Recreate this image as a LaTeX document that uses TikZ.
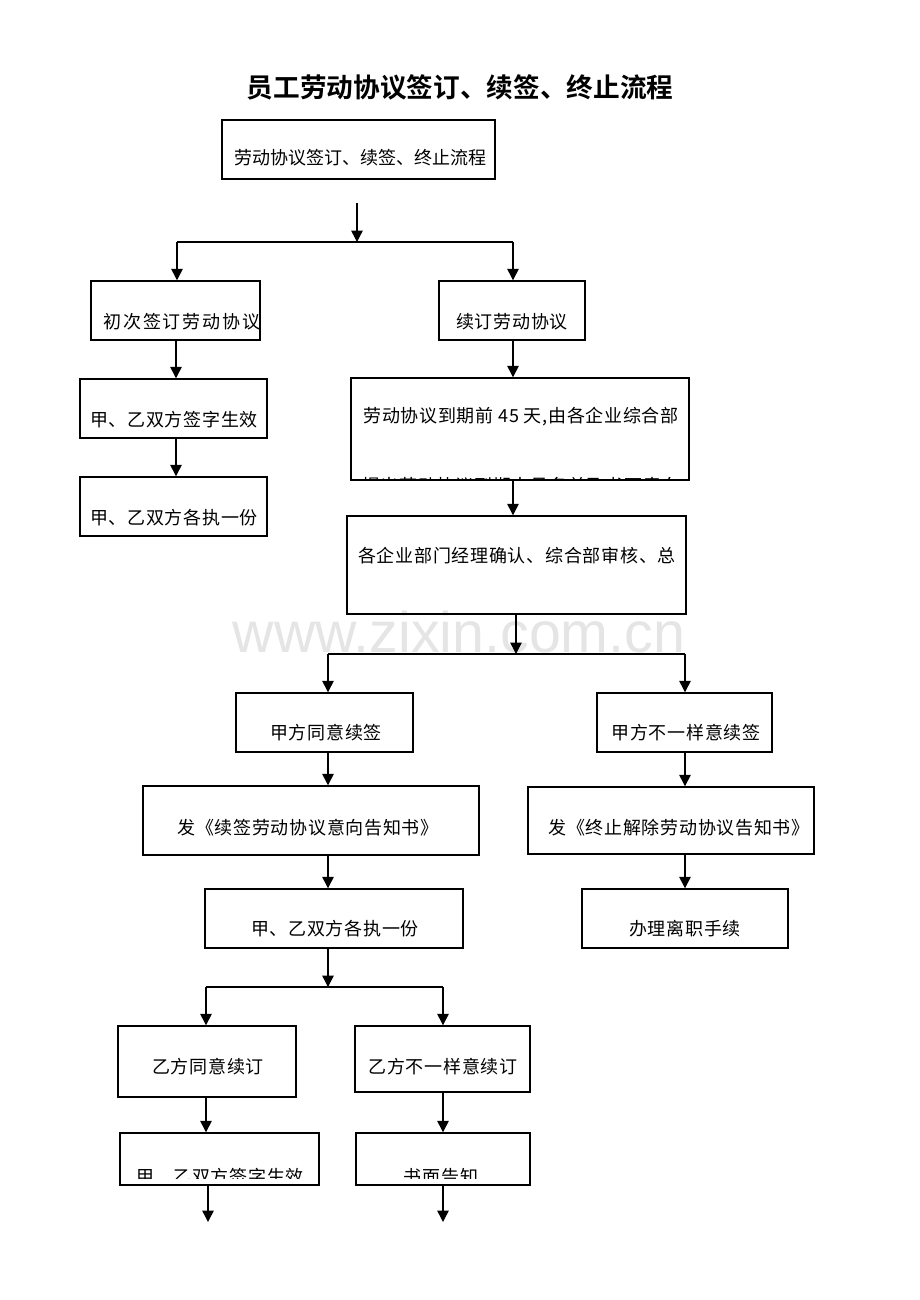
\documentclass[tikz,border=0pt]{standalone}
\usepackage{fontspec}
\setmainfont{Noto Sans CJK SC}[BoldFont={Noto Sans CJK SC Bold}]
\newfontfamily\wmfont{Liberation Sans}
\newfontfamily\boxfont{Noto Sans CJK SC}[LetterSpace=4]
\newfontfamily\boxfontw{Noto Sans CJK SC}[LetterSpace=11]
\newfontfamily\boxfontn{Noto Sans CJK SC}
\usetikzlibrary{arrows.meta,fit}
\begin{document}
\begin{tikzpicture}[x=0.75pt,y=-0.75pt,
  box/.style={draw, line width=1.1pt, inner sep=0pt},
  txt/.style={font=\boxfont\fontsize{13.5}{16}\selectfont, inner sep=0pt},
  txtw/.style={font=\boxfontw\fontsize{13.5}{16}\selectfont, inner sep=0pt},
  txtn/.style={font=\boxfontn\fontsize{13.5}{16}\selectfont, inner sep=0pt},
  arr/.style={line width=1.1pt, -{Triangle[width=8.5pt,length=8.5pt]}},
  ln/.style={line width=1.1pt}]
\useasboundingbox (0,0) rectangle (920,1300);
\fill[white] (0,0) rectangle (920,1300);

% watermark
\node[text=black!10, font=\wmfont\fontsize{43}{50}\selectfont, inner sep=0pt] (wm) at (459,632) {www.zixin.com.cn};

% title
\node[font=\bfseries\fontsize{20}{24}\selectfont, inner sep=0pt] (title) at (460,87) {员工劳动协议签订、续签、终止流程};

% boxes
\node[box, fit={(222,120)(495,179)}] (A) {};
\node[txtn] (tA) at (360,158) {劳动协议签订、续签、终止流程};
\node[box, fit={(91,281)(260,340)}] (B) {};
\node[txtw] (tB) at (182,322) {初次签订劳动协议};
\node[box, fit={(439,281)(585,340)}] (C) {};
\node[txt] (tC) at (512,322) {续订劳动协议};
\node[box, fit={(80,379)(267,438)}] (D) {};
\node[txt] (tD) at (174,420) {甲、乙双方签字生效};
\node[box, fit={(80,477)(267,536)}] (E) {};
\node[txt] (tE) at (174,518) {甲、乙双方各执一份};
\node[box, fit={(351,378)(689,480)}] (F) {};
\node[txt] (tF) at (521,417) {劳动协议到期前 45 天,由各企业综合部};
\begin{scope}
  \clip (352,379) rectangle (688,478);
  \node[txt] (tF2) at (521,486) {提出劳动协议到期人员名单及书面意向};
\end{scope}
\node[box, fit={(347,516)(686,614)}] (G) {};
\node[txt] (tG) at (517,556) {各企业部门经理确认、综合部审核、总};
\node[box, fit={(236,693)(413,752)}] (H) {};
\node[txt] (tH) at (326,733) {甲方同意续签};
\node[box, fit={(597,693)(772,752)}] (I) {};
\node[txt] (tI) at (686,733) {甲方不一样意续签};
\node[box, fit={(143,786)(479,855)}] (J) {};
\node[txt] (tJ) at (308,828) {发《续签劳动协议意向告知书》};
\node[box, fit={(528,787)(814,854)}] (K) {};
\node[txt] (tK) at (679,828) {发《终止解除劳动协议告知书》};
\node[box, fit={(582,889)(788,948)}] (L) {};
\node[txt] (tL) at (685,929) {办理离职手续};
\node[box, fit={(205,889)(463,948)}] (M) {};
\node[txt] (tM) at (335,929) {甲、乙双方各执一份};
\node[box, fit={(118,1026)(296,1097)}] (N) {};
\node[txt] (tN) at (208,1067) {乙方同意续订};
\node[box, fit={(355,1026)(530,1092)}] (O) {};
\node[txt] (tO) at (443,1067) {乙方不一样意续订};
\node[box, fit={(120,1133)(319,1185)}] (P) {};
\node[box, fit={(356,1133)(530,1185)}] (Q) {};
\begin{scope}
  \clip (121,1134) rectangle (318,1178);
  \node[txt] (tP) at (220,1177) {甲、乙双方签字生效};
\end{scope}
\begin{scope}
  \clip (357,1134) rectangle (529,1178);
  \node[txt] (tQ) at (441,1177) {书面告知};
\end{scope}

% connector coordinates
\coordinate (s1) at (357,203);
\coordinate (j1) at (357,242);
\coordinate (j1l) at (177,242);
\coordinate (j1r) at (513,242);
\coordinate (x513) at (513,0);
\coordinate (x516) at (516,0);
\coordinate (x176) at (176,0);
\coordinate (j2) at (516,654);
\coordinate (j2l) at (328,654);
\coordinate (j2r) at (685,654);
\coordinate (x328) at (328,0);
\coordinate (x685) at (685,0);
\coordinate (j3) at (328,987);
\coordinate (j3l) at (206,987);
\coordinate (j3r) at (443,987);
\coordinate (x206) at (206,0);
\coordinate (x208) at (208,0);
\coordinate (x443) at (443,0);
\coordinate (e1) at (208,1222);
\coordinate (e2) at (443,1222);

% connectors
\draw[arr] (s1) -- (j1);
\draw[ln] (j1l) -- (j1r);
\draw[arr] (j1l) -- (B.north -| j1l);
\draw[arr] (j1r) -- (C.north -| j1r);
\draw[arr] (B.south -| x176) -- (D.north -| x176);
\draw[arr] (D.south -| x176) -- (E.north -| x176);
\draw[arr] (C.south -| x513) -- (F.north -| x513);
\draw[arr] (F.south -| x513) -- (G.north -| x513);
\draw[arr] (G.south -| x516) -- (j2);
\draw[ln] (j2l) -- (j2r);
\draw[arr] (j2l) -- (H.north -| j2l);
\draw[arr] (j2r) -- (I.north -| j2r);
\draw[arr] (H.south -| x328) -- (J.north -| x328);
\draw[arr] (J.south -| x328) -- (M.north -| x328);
\draw[arr] (I.south -| x685) -- (K.north -| x685);
\draw[arr] (K.south -| x685) -- (L.north -| x685);
\draw[arr] (M.south -| x328) -- (j3);
\draw[ln] (j3l) -- (j3r);
\draw[arr] (j3l) -- (N.north -| j3l);
\draw[arr] (j3r) -- (O.north -| j3r);
\draw[arr] (N.south -| x206) -- (P.north -| x206);
\draw[arr] (O.south -| x443) -- (Q.north -| x443);
\draw[arr] (P.south -| x208) -- (e1);
\draw[arr] (Q.south -| x443) -- (e2);
\end{tikzpicture}
\end{document}
